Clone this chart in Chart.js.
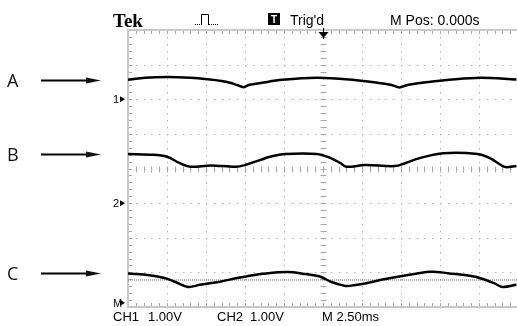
<!DOCTYPE html>
<html>
<head>
<meta charset="utf-8">
<script src="https://cdn.jsdelivr.net/npm/chart.js@4/dist/chart.umd.min.js"></script>
<style>
  html, body { margin: 0; padding: 0; background: #fff; }
  canvas { display: block; }
</style>
</head>
<body>
<canvas id="scope" width="517" height="326"></canvas>
<script>
// time in ms (2.50 ms/div), level in divisions (1.00 V/div) from the centre line
const traceA_t = [0, 1.1, 2.5, 4.0, 5.1, 6.0, 6.6, 7.0, 7.4, 7.8, 8.5, 9.9, 12.1, 14.2, 16.1, 16.9, 17.4, 17.9, 18.7, 20.6, 22.6, 24.9];
const traceA_v = [2.56, 2.62, 2.64, 2.62, 2.58, 2.53, 2.47, 2.41, 2.35, 2.42, 2.47, 2.56, 2.62, 2.57, 2.47, 2.41, 2.34, 2.41, 2.47, 2.56, 2.62, 2.57];

const traceB_t = [0, 1.4, 2.5, 3.3, 4.0, 5.3, 6.9, 7.5, 8.5, 9.1, 10.1, 12.1, 13.0, 13.6, 14.0, 15.2, 17.1, 17.8, 18.7, 20.2, 22.4, 23.2, 23.9, 24.2, 24.9];
const traceB_v = [0.42, 0.40, 0.34, 0.16, 0.05, 0.09, 0.05, 0.10, 0.25, 0.34, 0.42, 0.42, 0.30, 0.16, 0.05, 0.10, 0.07, 0.16, 0.30, 0.44, 0.42, 0.30, 0.10, 0.04, 0.07];

const traceC_t = [0, 1.4, 2.4, 3.0, 3.85, 4.6, 5.9, 6.9, 7.8, 8.5, 10.2, 11.4, 12.3, 13.0, 13.9, 14.2, 15.2, 16.4, 17.4, 19.4, 20.6, 21.9, 22.6, 23.5, 24.0, 24.9];
const traceC_v = [-3.03, -3.08, -3.17, -3.27, -3.42, -3.36, -3.27, -3.17, -3.10, -3.05, -2.99, -3.05, -3.12, -3.27, -3.39, -3.39, -3.32, -3.20, -3.12, -2.98, -3.03, -3.10, -3.17, -3.32, -3.42, -3.36];

const refLevel = -3.22;
const signalNames = ['A', 'B', 'C'];
const channelMarks = ['1', '2', 'M'];
const channelLevels = [2, -1, -3.88];
const headerTexts = ['Tek', "Trig'd", 'M Pos: 0.000s'];
const footerTexts = ['CH1', '1.00V', 'CH2', '1.00V', 'M 2.50ms'];

const msPerDiv = 2.5;
const xMax = 10 * msPerDiv * 389 / 390;

const toPts = (t, v) => t.map((x, i) => ({ x: x, y: v[i] }));

const scopeGrid = {
  id: 'scopeGrid',
  beforeDraw(chart) {
    const c = chart.ctx;
    c.save();
    c.fillStyle = '#fff';
    c.fillRect(0, 0, chart.width, chart.height);
    c.restore();
  },
  beforeDatasetsDraw(chart) {
    const c = chart.ctx, xs = chart.scales.x, ys = chart.scales.y;
    const a = chart.chartArea;
    c.save();
    c.fillStyle = '#b4b4b4';
    // dotted graticule
    for (let i = 1; i < 10; i++) {
      const px = Math.round(xs.getPixelForValue(i * msPerDiv));
      for (let k = -20; k <= 20; k++) {
        const py = ys.getPixelForValue(k * 0.2);
        c.fillRect(px, Math.round(py), 1, 1.5);
      }
    }
    for (let j = -3; j <= 3; j++) {
      const py = Math.round(ys.getPixelForValue(j));
      for (let k = 0; k <= 50; k++) {
        const px = xs.getPixelForValue(k * msPerDiv / 5);
        c.fillRect(Math.round(px), py, 1.5, 1);
      }
    }
    // centre line ticks
    c.strokeStyle = '#a8a8a8';
    c.lineWidth = 1;
    const cy = Math.round(ys.getPixelForValue(0)) + 0.5;
    const cx = Math.round(xs.getPixelForValue(5 * msPerDiv)) + 0.5;
    c.beginPath();
    for (let k = 0; k <= 50; k++) {
      const px = Math.round(xs.getPixelForValue(k * msPerDiv / 5)) + 0.5;
      c.moveTo(px, cy - 3); c.lineTo(px, cy + 3);
      c.moveTo(px, a.top + 1); c.lineTo(px, a.top + 4);
      c.moveTo(px, a.bottom - 4); c.lineTo(px, a.bottom);
    }
    for (let k = -20; k <= 20; k++) {
      const py = Math.round(ys.getPixelForValue(k * 0.2)) + 0.5;
      c.moveTo(cx - 3, py); c.lineTo(cx + 3, py);
      c.moveTo(a.left, py); c.lineTo(a.left + 4, py);
    }
    c.stroke();
    // frame
    c.strokeStyle = '#c8c8c8';
    c.lineWidth = 2;
    c.beginPath();
    c.moveTo(a.right, a.top); c.lineTo(a.left, a.top); c.lineTo(a.left, a.bottom); c.lineTo(a.right, a.bottom);
    c.stroke();
    c.restore();
  },
  afterDraw(chart) {
    const c = chart.ctx, xs = chart.scales.x, ys = chart.scales.y;
    const a = chart.chartArea;
    c.save();
    c.fillStyle = '#000';
    c.strokeStyle = '#000';
    c.textBaseline = 'alphabetic';

    // header
    c.font = 'bold 19px "Liberation Serif"';
    c.fillText(headerTexts[0], 113, 27);
    c.font = '14px "Liberation Sans"';
    c.fillText(headerTexts[1], 290, 25);
    c.fillText(headerTexts[2], 390, 25);
    c.fillRect(268, 13, 12, 12);
    c.fillStyle = '#fff';
    c.font = 'bold 10px "Liberation Sans"';
    c.fillText('T', 271, 23);
    c.fillStyle = '#000';
    // pulse icon
    c.lineWidth = 1;
    c.beginPath();
    c.moveTo(201.5, 25); c.lineTo(201.5, 14.5); c.lineTo(208.5, 14.5); c.lineTo(208.5, 25);
    c.stroke();
    for (let x = 195; x < 201; x += 2) c.fillRect(x, 24, 1, 1);
    for (let x = 209; x < 219; x += 2) c.fillRect(x, 24, 1, 1);

    // trigger position marker
    const tx = Math.round(xs.getPixelForValue(5 * msPerDiv)) + 0.5;
    c.beginPath();
    c.moveTo(tx, a.top - 2); c.lineTo(tx, a.top + 9);
    c.stroke();
    c.beginPath();
    c.moveTo(tx - 5, a.top + 2); c.lineTo(tx + 5, a.top + 2); c.lineTo(tx, a.top + 8);
    c.closePath();
    c.fill();

    // channel ground markers
    c.font = '11px "Liberation Sans"';
    channelMarks.forEach((m, i) => {
      const py = ys.getPixelForValue(channelLevels[i]);
      c.fillText(m, 113, py + 4);
      c.beginPath();
      c.moveTo(120, py - 3); c.lineTo(125, py); c.lineTo(120, py + 3);
      c.closePath();
      c.fill();
    });

    // signal labels with arrows
    const firsts = [traceA_v[0], traceB_v[0], traceC_v[0]];
    signalNames.forEach((n, i) => {
      const py = Math.round(ys.getPixelForValue(firsts[i])) + 0.5;
      c.font = '18px "Open Sans"';
      c.fillStyle = '#111';
      c.fillText(n, 7, py + 6);
      c.lineWidth = 2;
      c.beginPath();
      c.moveTo(41, py); c.lineTo(92, py);
      c.stroke();
      c.beginPath();
      c.moveTo(86, py - 3); c.lineTo(101, py); c.lineTo(86, py + 3);
      c.closePath();
      c.fill();
    });

    // footer
    c.fillStyle = '#000';
    c.font = '13px "Liberation Sans"';
    c.fillText(footerTexts[0], 113, 321);
    c.fillText(footerTexts[1], 148, 321);
    c.fillText(footerTexts[2], 217, 321);
    c.fillText(footerTexts[3], 250, 321);
    c.fillText(footerTexts[4], 322, 321);
    c.restore();
  }
};

const traceStyle = {
  borderColor: '#000',
  borderWidth: 2.5,
  pointRadius: 0,
  fill: false,
  tension: 0.35
};

new Chart(document.getElementById('scope').getContext('2d'), {
  type: 'line',
  data: {
    datasets: [
      { label: 'A', data: toPts(traceA_t, traceA_v), ...traceStyle },
      { label: 'B', data: toPts(traceB_t, traceB_v), ...traceStyle },
      { label: 'C', data: toPts(traceC_t, traceC_v), ...traceStyle },
      {
        label: 'ref',
        data: [{ x: 0, y: refLevel }, { x: xMax, y: refLevel }],
        borderColor: '#666',
        borderWidth: 1,
        borderDash: [1, 1],
        pointRadius: 0,
        fill: false
      }
    ]
  },
  options: {
    responsive: false,
    animation: false,
    layout: { padding: { left: 128, top: 30, right: 0, bottom: 19 } },
    plugins: { legend: { display: false }, tooltip: { enabled: false } },
    scales: {
      x: { type: 'linear', min: 0, max: xMax, display: false },
      y: { min: -4, max: 4, display: false }
    }
  },
  plugins: [scopeGrid]
});
</script>
</body>
</html>
